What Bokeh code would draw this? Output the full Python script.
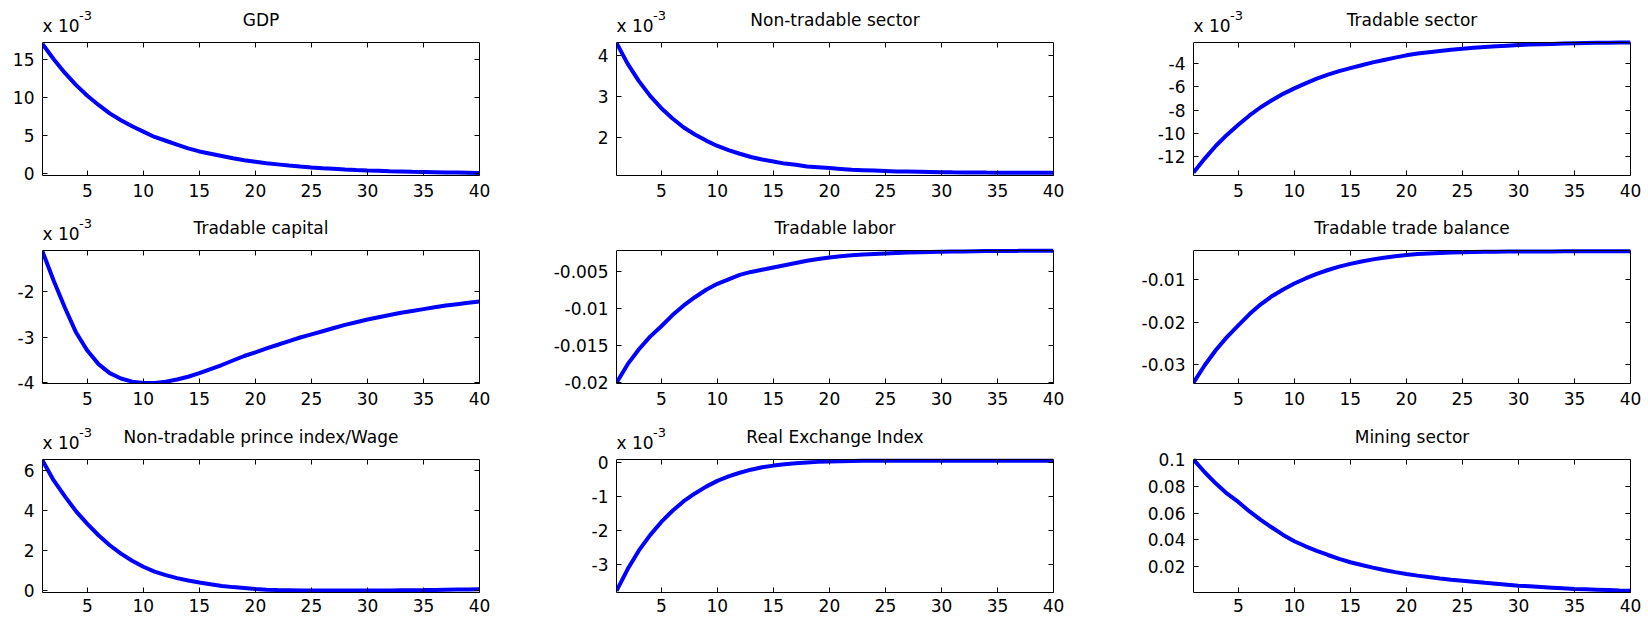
from bokeh.plotting import figure
from bokeh.models import (Range1d, FixedTicker, LinearAxis, Label,
                          CustomJSTickFormatter, CustomLabelingPolicy)
from bokeh.layouts import row, column
from bokeh.embed import file_html
from bokeh.resources import INLINE

# ---------------- data ----------------
periods = list(range(1, 41))
x_ticks = [5, 10, 15, 20, 25, 30, 35, 40]

titles = ["GDP", "Non-tradable sector", "Tradable sector",
          "Tradable capital", "Tradable labor", "Tradable trade balance",
          "Non-tradable prince index/Wage", "Real Exchange Index", "Mining sector"]

# values shown in units of 10^-3
gdp = [17.0, 15.0, 13.2, 11.6, 10.2, 9.0, 7.9, 7.0, 6.2, 5.5,
       4.8, 4.3, 3.8, 3.3, 2.9, 2.6, 2.3, 2.0, 1.75, 1.55,
       1.35, 1.2, 1.05, 0.92, 0.8, 0.7, 0.62, 0.54, 0.47, 0.41,
       0.36, 0.31, 0.27, 0.23, 0.2, 0.17, 0.14, 0.12, 0.1, 0.08]
nontradable = [4.30, 3.79, 3.37, 3.01, 2.71, 2.46, 2.24, 2.07, 1.92, 1.79,
               1.69, 1.60, 1.52, 1.46, 1.41, 1.36, 1.33, 1.29, 1.27, 1.25,
               1.23, 1.21, 1.20, 1.19, 1.18, 1.17, 1.165, 1.16, 1.155, 1.15,
               1.147, 1.145, 1.143, 1.141, 1.14, 1.139, 1.138, 1.137, 1.136, 1.135]
tradable = [-13.35, -12.15, -11.05, -10.1, -9.25, -8.45, -7.75, -7.15, -6.6, -6.13,
            -5.7, -5.3, -4.95, -4.65, -4.4, -4.15, -3.9, -3.7, -3.5, -3.3,
            -3.15, -3.03, -2.92, -2.82, -2.73, -2.65, -2.58, -2.52, -2.47, -2.42,
            -2.38, -2.35, -2.32, -2.29, -2.27, -2.25, -2.23, -2.22, -2.21, -2.2]
tradable_capital = [-1.10, -1.75, -2.35, -2.9, -3.3, -3.6, -3.8, -3.92, -3.99, -4.02,
                    -4.02, -3.99, -3.94, -3.88, -3.8, -3.71, -3.62, -3.52, -3.42, -3.34,
                    -3.25, -3.17, -3.09, -3.01, -2.94, -2.87, -2.8, -2.73, -2.67, -2.61,
                    -2.56, -2.51, -2.46, -2.42, -2.38, -2.34, -2.3, -2.27, -2.24, -2.21]
# plain values
tradable_labor = [-0.0200, -0.0175, -0.0155, -0.0138, -0.0124, -0.0109, -0.0096, -0.0085, -0.0075, -0.0067,
                  -0.0061, -0.0055, -0.0051, -0.0048, -0.0045, -0.0042, -0.0039, -0.0036, -0.00335, -0.00315,
                  -0.0030, -0.00286, -0.00276, -0.00268, -0.00261, -0.00255, -0.0025, -0.00246, -0.00242, -0.00239,
                  -0.00236, -0.00234, -0.00232, -0.0023, -0.00229, -0.00228, -0.00227, -0.00226, -0.00226, -0.00225]
trade_balance = [-0.0343, -0.0302, -0.0266, -0.0235, -0.0208, -0.0181, -0.0158, -0.0139, -0.0123, -0.0109,
                 -0.0097, -0.0086, -0.0077, -0.0069, -0.00625, -0.0057, -0.0052, -0.0048, -0.00445, -0.00415,
                 -0.00395, -0.0038, -0.00368, -0.00358, -0.0035, -0.00345, -0.0034, -0.00337, -0.00335, -0.00333,
                 -0.00332, -0.00331, -0.00331, -0.0033, -0.0033, -0.0033, -0.0033, -0.0033, -0.0033, -0.0033]
# values shown in units of 10^-3
nt_price_wage = [6.5, 5.5, 4.7, 3.95, 3.32, 2.75, 2.25, 1.83, 1.47, 1.17,
                 0.93, 0.75, 0.6, 0.48, 0.38, 0.29, 0.21, 0.15, 0.1, 0.05,
                 0.02, 0.0, -0.01, -0.02, -0.02, -0.025, -0.025, -0.025, -0.025, -0.02,
                 -0.02, -0.015, -0.01, -0.005, 0.0, 0.01, 0.02, 0.03, 0.035, 0.04]
real_exchange = [-3.79, -3.15, -2.60, -2.15, -1.76, -1.43, -1.15, -0.92, -0.72, -0.55,
                 -0.42, -0.31, -0.22, -0.15, -0.10, -0.06, -0.03, -0.01, 0.01, 0.02,
                 0.03, 0.035, 0.04, 0.045, 0.045, 0.045, 0.045, 0.045, 0.045, 0.045,
                 0.045, 0.045, 0.045, 0.045, 0.045, 0.045, 0.045, 0.045, 0.045, 0.045]
# plain values
mining = [0.1, 0.0905, 0.082, 0.0745, 0.0683, 0.0612, 0.0549, 0.0492, 0.0437, 0.0390,
          0.0352, 0.0318, 0.0287, 0.0258, 0.0233, 0.0212, 0.0193, 0.0175, 0.0159, 0.0145,
          0.0133, 0.0122, 0.0112, 0.0103, 0.0095, 0.0087, 0.0079, 0.0072, 0.0065, 0.0058,
          0.0053, 0.0048, 0.0043, 0.0038, 0.0034, 0.0031, 0.0028, 0.0025, 0.0022, 0.0020]

series = [gdp, nontradable, tradable, tradable_capital, tradable_labor, trade_balance,
          nt_price_wage, real_exchange, mining]

y_limits = [(-0.26, 17.2), (1.07, 4.31), (-13.6, -2.2),
            (-4.03, -1.08), (-0.0201, -0.00222), (-0.0345, -0.0031),
            (-0.12, 6.55), (-3.84, 0.08), (0.0007, 0.1)]

y_ticks = [[0, 5, 10, 15], [2, 3, 4], [-12, -10, -8, -6, -4],
           [-4, -3, -2], [-0.02, -0.015, -0.01, -0.005], [-0.03, -0.02, -0.01],
           [0, 2, 4, 6], [-3, -2, -1, 0], [0.02, 0.04, 0.06, 0.08, 0.1]]
y_tick_labels = [["0", "5", "10", "15"], ["2", "3", "4"], ["-12", "-10", "-8", "-6", "-4"],
                 ["-4", "-3", "-2"], ["-0.02", "-0.015", "-0.01", "-0.005"], ["-0.03", "-0.02", "-0.01"],
                 ["0", "2", "4", "6"], ["-3", "-2", "-1", "0"], ["0.02", "0.04", "0.06", "0.08", "0.1"]]
exponent = [True, True, True, True, False, False, True, True, False]

# ---------------- layout / style ----------------
FONT = "DejaVu Sans"
FS = "17px"
BOX_W, BOX_H = 437, 133          # axes box size in px
TOP = 34                          # room above the box (inside the frame) for title texts
col_borders = [(42, 20), (117, 20), (120, 16)]
row_borders = [(8, 30), (11, 30), (12, 29)]
row_standoff = [8, 8, 6]

no_labels = CustomLabelingPolicy(code="""
    for (let i = 0; i < indices.size; i++) { indices.unset(i) }
    return indices
""")


def label_fmt(ticks, labels):
    return CustomJSTickFormatter(args=dict(t=ticks, l=labels), code="""
        for (let i = 0; i < t.length; i++) {
            if (Math.abs(t[i] - tick) < 1e-12) return l[i];
        }
        return '';
    """)


def style_axis(ax, show_labels, standoff=8):
    ax.axis_line_color = "black"
    ax.axis_line_width = 1
    ax.major_tick_line_color = "black"
    ax.major_tick_in = 5
    ax.major_tick_out = 0
    ax.minor_tick_line_color = None
    if show_labels:
        ax.major_label_text_font = FONT
        ax.major_label_text_font_size = FS
        ax.major_label_text_color = "black"
        ax.major_label_standoff = standoff
    else:
        ax.major_label_policy = no_labels
        ax.major_label_text_font_size = "1px"
        ax.major_label_standoff = 0


def make_panel(i):
    r, c = divmod(i, 3)
    bl, br = col_borders[c]
    bt, bb = row_borders[r]
    lo, hi = y_limits[i]
    top_ext = hi + (hi - lo) * TOP / BOX_H
    p = figure(width=bl + BOX_W + br, height=bt + TOP + BOX_H + bb,
               x_range=Range1d(1, 40), y_range=Range1d(lo, top_ext),
               x_axis_type=None, y_axis_type=None,
               output_backend="svg", toolbar_location=None,
               min_border_left=bl, min_border_right=br,
               min_border_top=bt, min_border_bottom=bb)
    p.outline_line_color = None
    p.background_fill_color = "white"
    p.border_fill_color = "white"

    xt = FixedTicker(ticks=x_ticks)
    yt = FixedTicker(ticks=y_ticks[i])

    bottom = LinearAxis(ticker=xt)
    style_axis(bottom, True, row_standoff[r])
    p.add_layout(bottom, "below")
    top = LinearAxis(ticker=xt, fixed_location=hi)
    style_axis(top, False)
    p.add_layout(top, "above")
    left = LinearAxis(ticker=yt, bounds=(lo, hi),
                      formatter=label_fmt(y_ticks[i], y_tick_labels[i]))
    style_axis(left, True, 8)
    p.add_layout(left, "left")
    right = LinearAxis(ticker=yt, bounds=(lo, hi))
    style_axis(right, False)
    p.add_layout(right, "right")

    p.line(periods, series[i], line_color="#0000ff", line_width=4)

    p.add_layout(Label(x=20.5, y=hi, text=titles[i], text_align="center",
                       text_baseline="middle", y_offset=22.5,
                       text_font=FONT, text_font_size=FS, text_color="black"))
    if exponent[i]:
        p.add_layout(Label(x=1, y=hi, text="x 10", text_align="left",
                           text_baseline="middle", y_offset=16.5,
                           text_font=FONT, text_font_size=FS, text_color="black"))
        p.add_layout(Label(x=1, y=hi, text="-3", text_align="left",
                           text_baseline="middle", x_offset=36.5, y_offset=27.0,
                           text_font=FONT, text_font_size="13px", text_color="black"))
    return p


panels = [make_panel(i) for i in range(9)]
layout = column(row(panels[0:3]), row(panels[3:6]), row(panels[6:9]))

open("out.html", "w").write(file_html(layout, INLINE))
